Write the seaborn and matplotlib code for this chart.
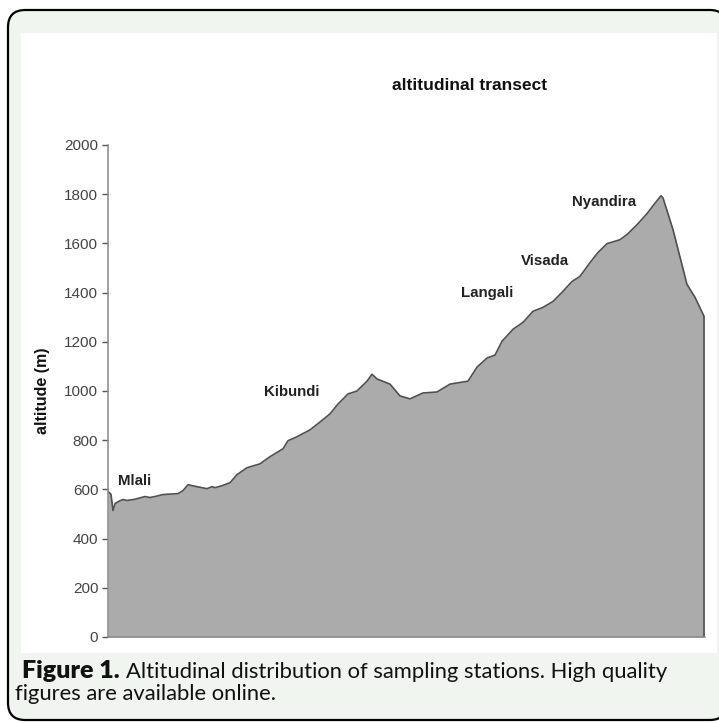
import matplotlib
matplotlib.use("Agg")
import matplotlib.pyplot as plt
from matplotlib.patches import FancyBboxPatch, Rectangle
import seaborn as sns

# ========== DONNEES ==========
distance = [0, 3, 5, 7, 11, 15, 19, 27, 37, 42, 49, 55, 70, 75, 80, 89, 99, 104,
            107, 114, 122, 129, 139, 152, 162, 175, 180, 189, 202, 212, 222, 230,
            240, 249, 259, 264, 269, 282, 292, 302, 315, 329, 342, 360, 369, 379,
            387, 394, 405, 415, 425, 435, 445, 454, 464, 472, 482, 490, 499, 512,
            519, 529, 539, 545, 553, 555, 565, 579, 587, 596]
altitude = [592, 580, 514, 542, 552, 559, 555, 560, 571, 567, 573, 579, 583, 595,
            619, 611, 603, 611, 607, 615, 627, 660, 688, 704, 733, 765, 798, 814,
            842, 874, 907, 947, 988, 1000, 1040, 1068, 1049, 1028, 980, 968, 992,
            996, 1028, 1040, 1097, 1134, 1146, 1202, 1251, 1279, 1324, 1340, 1364,
            1401, 1445, 1466, 1522, 1563, 1599, 1615, 1636, 1676, 1721, 1753, 1794,
            1785, 1656, 1433, 1381, 1304]

stations = ["Mlali", "Kibundi", "Langali", "Visada", "Nyandira"]
station_x = [27, 184, 379, 437, 496]
station_y = [636, 996, 1400, 1530, 1769]

y_ticks = [0, 200, 400, 600, 800, 1000, 1200, 1400, 1600, 1800, 2000]

titre = "altitudinal transect"
label_y = "altitude (m)"
legende_bold = "Figure 1."
legende_l1 = "Altitudinal distribution of sampling stations. High quality"
legende_l2 = "figures are available online."

W, H = 719, 723

# ========== FIGURE ==========
sns.set_style("ticks")
plt.rcParams["font.family"] = ["Liberation Sans", "DejaVu Sans"]

fig = plt.figure(figsize=(W / 100, H / 100), dpi=100, facecolor="white")

# cadre arrondi + panneau blanc
cadre = FancyBboxPatch((8 / W, 3 / H), 1.0, 710 / H,
                       boxstyle="round,pad=0,rounding_size=0.024",
                       transform=fig.transFigure, facecolor="#f0f5ef",
                       edgecolor="black", linewidth=1.6, zorder=-3)
fig.add_artist(cadre)
panneau = Rectangle((21 / W, 1 - 653 / H), 696 / W, 620 / H, transform=fig.transFigure,
                    facecolor="white", edgecolor="none", zorder=-2)
fig.add_artist(panneau)

ax = fig.add_axes([108 / W, 1 - 637 / H, 597 / W, 492 / H])
ax.patch.set_alpha(0)

ax.fill_between(distance, altitude, 0, color="#ababab", linewidth=0)
sns.lineplot(x=distance, y=altitude, ax=ax, color="#505050", linewidth=1.2,
             sort=False, estimator=None)
ax.vlines(distance[-1], 0, altitude[-1], color="#505050", linewidth=1.2)

for nom, sx, sy in zip(stations, station_x, station_y):
    ax.text(sx, sy, nom, ha="center", va="center", fontsize=10.8,
            fontweight="bold", color="#222222")

ax.set_xlim(0, 597)
ax.set_ylim(0, 2000)
ax.set_yticks(y_ticks)
ax.set_xticks([])
ax.set_xlabel("")
ax.set_ylabel(label_y, fontsize=11.5, fontweight="bold", color="#111111", labelpad=10)
ax.tick_params(axis="y", labelsize=11, colors="#555555", length=4, width=1, pad=3)
for lbl in ax.get_yticklabels():
    lbl.set_color("#444444")

sns.despine(ax=ax)
for s in ["left", "bottom"]:
    ax.spines[s].set_color("#888888")
    ax.spines[s].set_linewidth(1.1)

fig.text(470 / W, 1 - 85 / H, titre, ha="center", va="center", fontsize=12.5,
         fontweight="bold", color="#111111")

# ========== LEGENDE ==========
cap_font = ["Lato", "DejaVu Sans"]
t_bold = fig.text(22 / W, 1 - 678 / H, legende_bold, fontsize=18,
                  fontweight="heavy", family=cap_font, va="baseline", color="#111111")
fig.canvas.draw()
bb = t_bold.get_window_extent()
fig.text((bb.x1 + 6) / W, 1 - 678 / H, legende_l1, fontsize=15.8,
         family=cap_font, va="baseline", color="#111111")
fig.text(15 / W, 1 - 700 / H, legende_l2, fontsize=15.8,
         family=cap_font, va="baseline", color="#111111")

fig.savefig("out.png", dpi=100)
